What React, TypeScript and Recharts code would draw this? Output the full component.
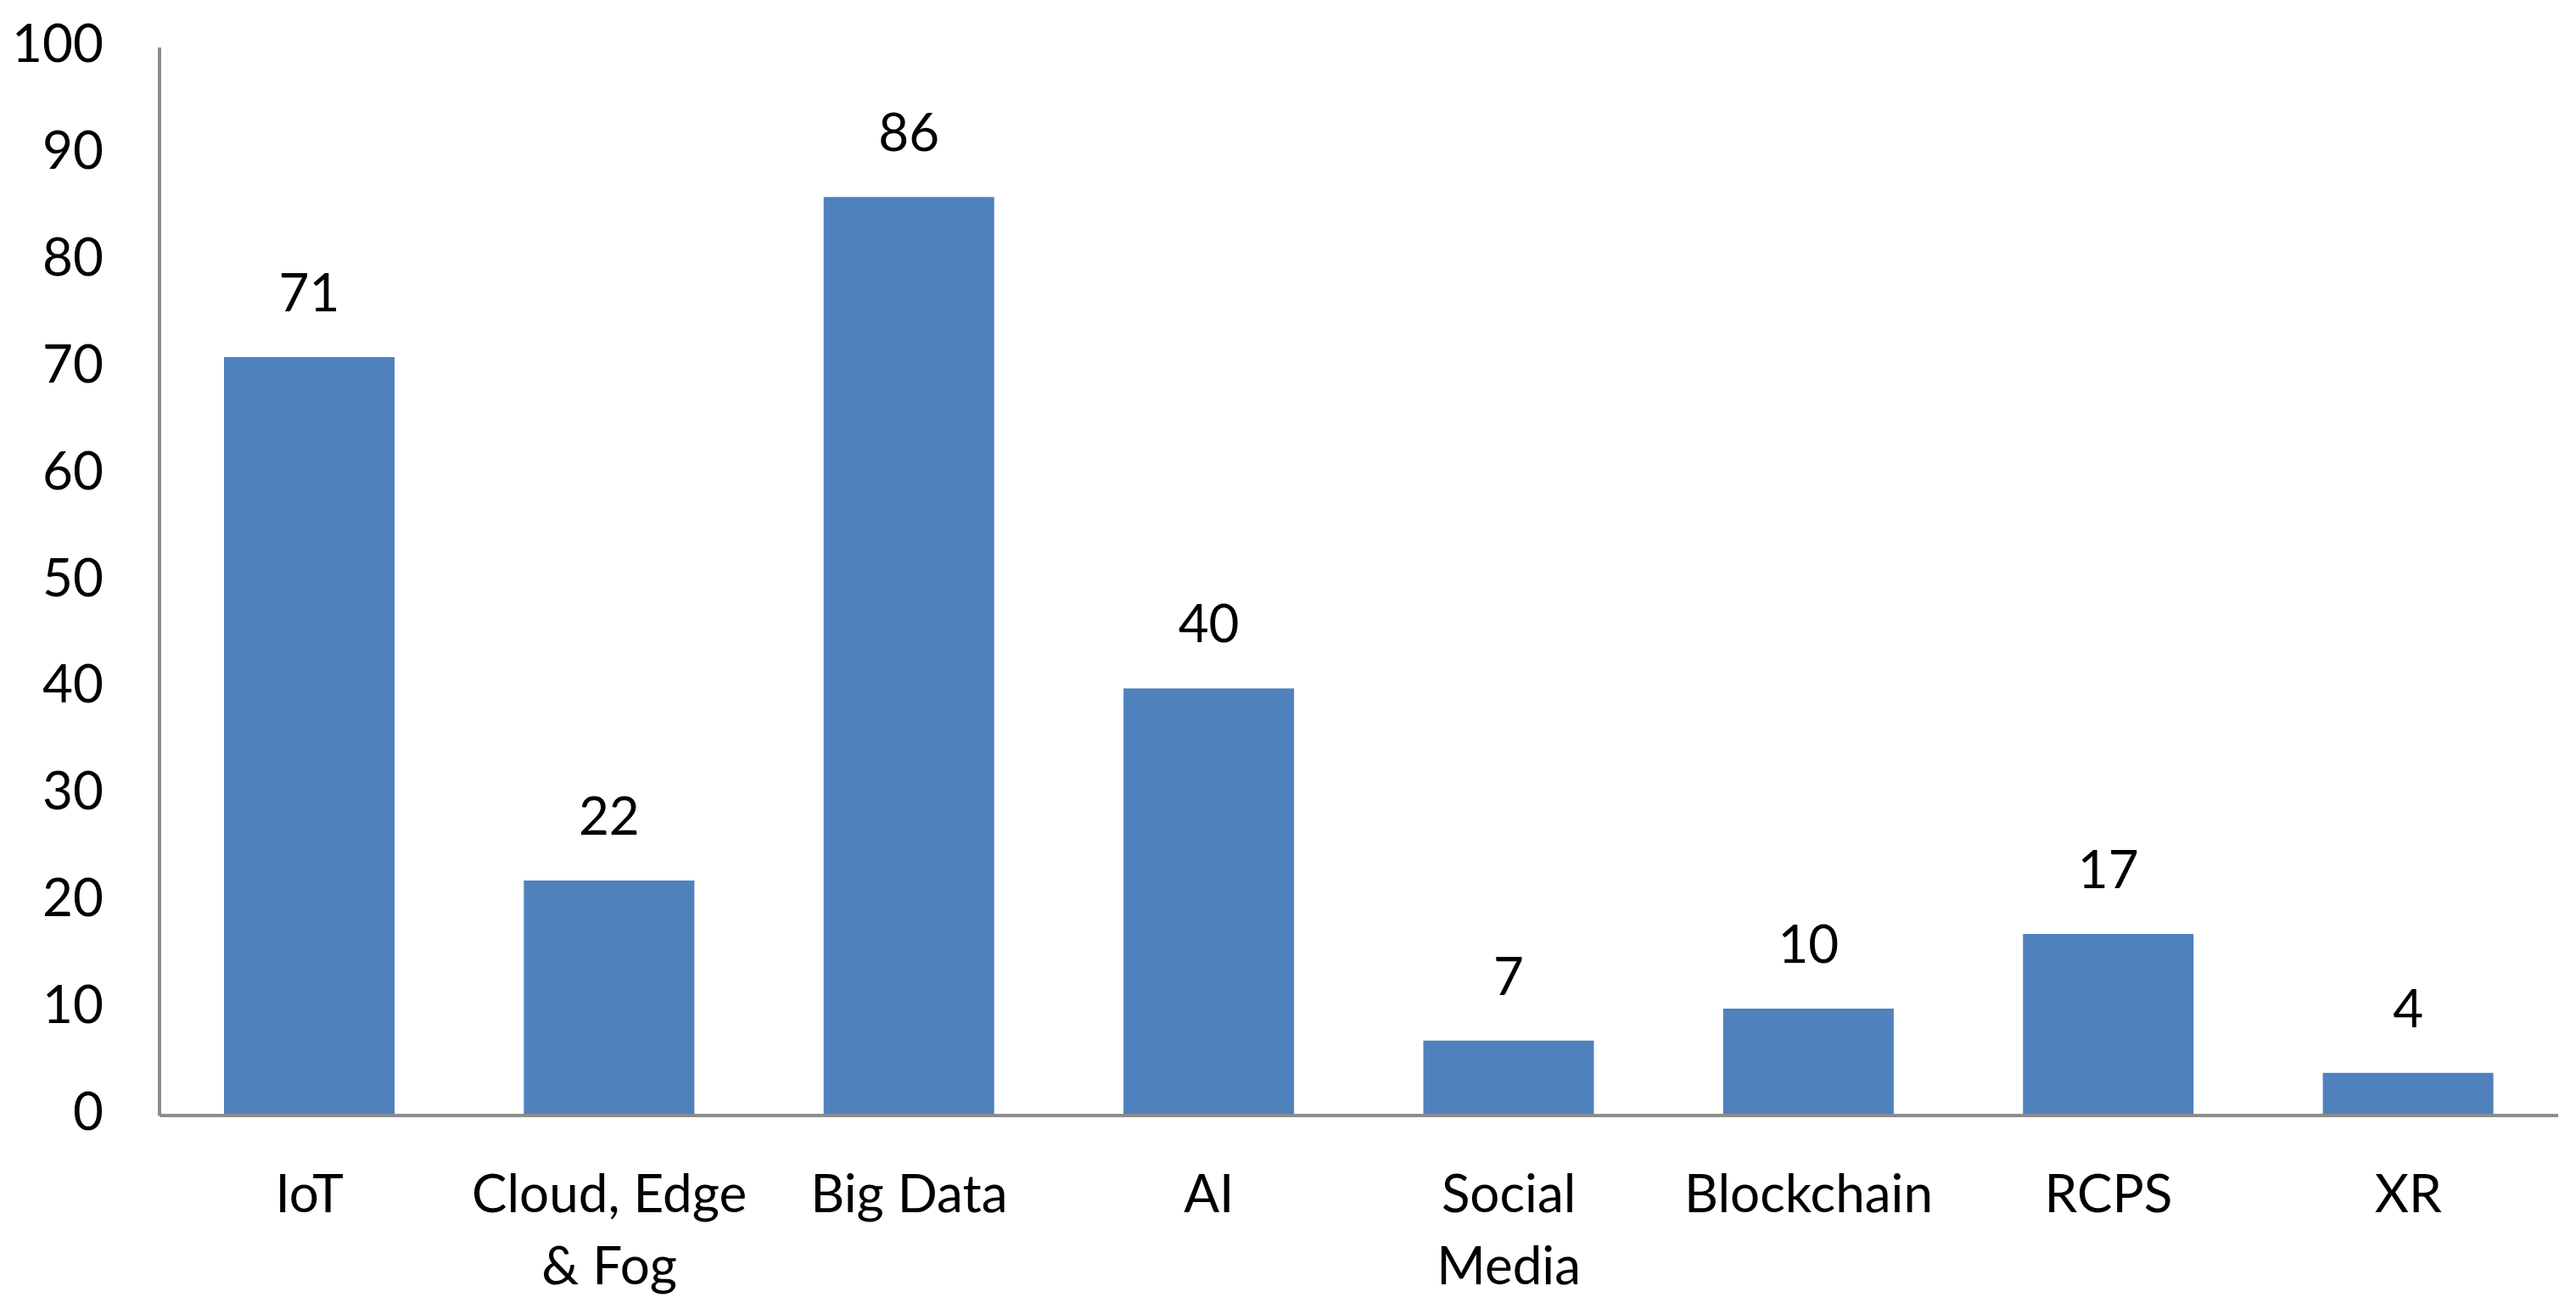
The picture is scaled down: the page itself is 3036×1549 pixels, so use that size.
import { BarChart, Bar, XAxis, YAxis, LabelList } from 'recharts'

const categories = ['IoT', 'Cloud, Edge & Fog', 'Big Data', 'AI', 'Social Media', 'Blockchain', 'RCPS', 'XR']
const tickLines = [['IoT'], ['Cloud, Edge', '& Fog'], ['Big Data'], ['AI'], ['Social', 'Media'], ['Blockchain'], ['RCPS'], ['XR']]
const counts = [71, 22, 86, 40, 7, 10, 17, 4]
const yTicks = [0, 10, 20, 30, 40, 50, 60, 70, 80, 90, 100]

const data = categories.map((name, i) => ({ name, value: counts[i] }))

const FONT = 'Lato, "Open Sans", sans-serif'
const AXIS = '#8c8c8c'

function CategoryTick(props: any) {
  const { x, y, index } = props
  const lines = tickLines[index] || [String(props.payload.value)]
  return (
    <text x={x} y={y} textAnchor="middle" fill="#000" fontSize={62} fontFamily={FONT}>
      {lines.map((ln, i) => (
        <tspan key={i} x={x} y={y + 106 + i * 85}>
          {ln}
        </tspan>
      ))}
    </text>
  )
}

export default function App() {
  return (
    <div style={{ width: 3020, height: 1541, background: '#fff' }}>
      <BarChart
        width={3020}
        height={1541}
        data={data}
        margin={{ top: 48, right: 13, bottom: 0, left: 0 }}
      >
        <XAxis
          dataKey="name"
          height={234}
          axisLine={{ stroke: AXIS, strokeWidth: 4 }}
          tickLine={false}
          tick={<CategoryTick />}
          interval={0}
        />
        <YAxis
          width={180}
          domain={[0, 100]}
          ticks={yTicks}
          interval={0}
          axisLine={{ stroke: AXIS, strokeWidth: 4 }}
          tickLine={false}
          tickSize={0}
          tickMargin={66}
          tick={{ fill: '#000', fontSize: 62, fontFamily: FONT, dy: -5 }}
        />
        <Bar dataKey="value" fill="#4f81bd" barSize={201} isAnimationActive={false}>
          <LabelList
            dataKey="value"
            position="top"
            offset={54}
            fill="#000"
            fontSize={62}
            fontFamily={FONT}
          />
        </Bar>
      </BarChart>
    </div>
  )
}
